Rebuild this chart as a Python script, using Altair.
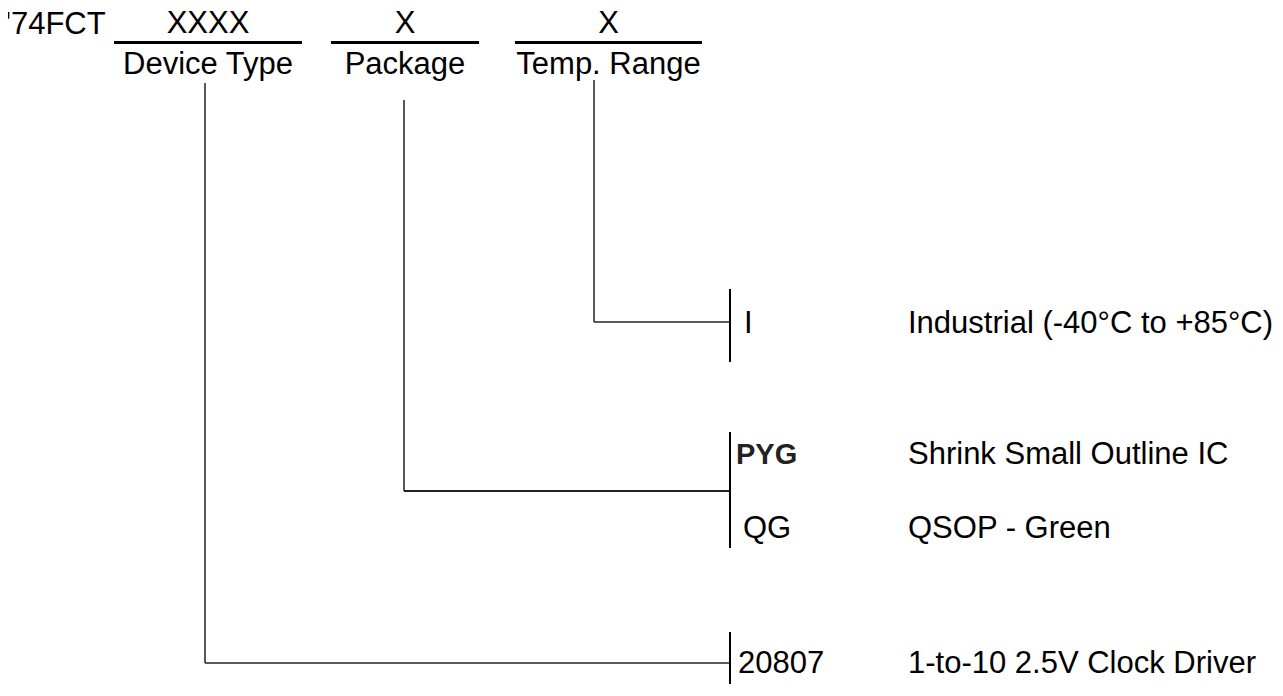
import altair as alt
import pandas as pd

# ---- content -------------------------------------------------------------
prefix = "'74FCT"
field_names = ["Device Type", "Package", "Temp. Range"]
placeholders = ["XXXX", "X", "X"]
option_codes = [["20807"], ["PYG", "QG"], ["I"]]
option_descriptions = [
    ["1-to-10 2.5V Clock Driver"],
    ["Shrink Small Outline IC", "QSOP - Green"],
    ["Industrial (-40°C to +85°C)"],
]
option_code_bold = [[False], [True, False], [False]]

# ---- layout (diagram coordinates, pixels of the page) ---------------------
W, H = 1267, 676
X0, Y0 = 8, 8
field_bar_left = [114, 331, 515]
field_bar_right = [302, 479, 702]
field_bar_y = 42.5
placeholder_y = 33
label_y = 74
prefix_x, prefix_y = 5, 34
connector_x = [205, 404, 594]
connector_top = [83, 100, 80]
connector_elbow = [663, 491, 322]
option_bar_x = 730
option_bar_span = [(632, 700), (432, 548), (289, 362)]
option_baselines = [[673], [464, 538], [333]]
code_x = [[738], [736, 743], [744]]
desc_x = 908

FONT = "Liberation Sans"
SIZE = 31

# ---- tables ---------------------------------------------------------------
bars = pd.DataFrame({
    "x": field_bar_left, "x2": field_bar_right,
    "y": [field_bar_y] * 3, "y2": [field_bar_y] * 3,
})

conn_rows = []
for i in range(3):
    conn_rows.append(dict(x=connector_x[i], x2=connector_x[i],
                          y=connector_top[i], y2=connector_elbow[i], w=1.5))
    conn_rows.append(dict(x=connector_x[i], x2=option_bar_x,
                          y=connector_elbow[i], y2=connector_elbow[i],
                          w=2.0 if i == 1 else 1.5))
connectors = pd.DataFrame(conn_rows)

opt_bars = pd.DataFrame({
    "x": [option_bar_x] * 3, "x2": [option_bar_x] * 3,
    "y": [s[0] for s in option_bar_span], "y2": [s[1] for s in option_bar_span],
})

centers = [(a + b) / 2 for a, b in zip(field_bar_left, field_bar_right)]
head_text = pd.DataFrame({"x": [prefix_x], "y": [prefix_y], "t": [prefix]})
placeholder_text = pd.DataFrame({"x": centers, "y": [placeholder_y] * 3, "t": placeholders})
label_text = pd.DataFrame({"x": centers, "y": [label_y] * 3, "t": field_names})

code_rows, desc_rows = [], []
for i in range(3):
    for j, code in enumerate(option_codes[i]):
        code_rows.append(dict(x=code_x[i][j], y=option_baselines[i][j], t=code,
                              bold=option_code_bold[i][j]))
        desc_rows.append(dict(x=desc_x, y=option_baselines[i][j],
                              t=option_descriptions[i][j]))
codes_df = pd.DataFrame(code_rows)
desc_df = pd.DataFrame(desc_rows)

xs = alt.Scale(domain=[X0, X0 + W], nice=False, zero=False)
ys = alt.Scale(domain=[Y0, Y0 + H], nice=False, zero=False, reverse=True)


def X(f="x"):
    return alt.X(f"{f}:Q", scale=xs, axis=None)


def Y(f="y"):
    return alt.Y(f"{f}:Q", scale=ys, axis=None)


bar_layer = alt.Chart(bars).mark_rule(color="black", strokeWidth=3).encode(
    x=X(), x2="x2:Q", y=Y(), y2="y2:Q")

conn_layer = alt.Chart(connectors).mark_rule(color="#222222").encode(
    x=X(), x2="x2:Q", y=Y(), y2="y2:Q",
    strokeWidth=alt.StrokeWidth("w:Q", scale=None, legend=None))

opt_layer = alt.Chart(opt_bars).mark_rule(color="black", strokeWidth=2).encode(
    x=X(), x2="x2:Q", y=Y(), y2="y2:Q")


def text_layer(df, align="left", size=SIZE, weight="normal", color="black"):
    return alt.Chart(df).mark_text(
        align=align, baseline="alphabetic", font=FONT, fontSize=size,
        fontWeight=weight, color=color,
    ).encode(x=X(), y=Y(), text="t:N")


prefix_layer = text_layer(head_text)
ph_layer = text_layer(placeholder_text, align="center")
lab_layer = text_layer(label_text, align="center")
code_plain = text_layer(codes_df[~codes_df["bold"]])
code_bold = text_layer(codes_df[codes_df["bold"]], size=29, weight="bold", color="#222222")
desc_layer = text_layer(desc_df)

chart = alt.layer(
    bar_layer, conn_layer, opt_layer,
    prefix_layer, ph_layer, lab_layer, code_plain, code_bold, desc_layer,
).properties(
    width=W, height=H, padding=0, autosize=alt.AutoSizeParams(type="none"),
    background="white",
).configure_view(stroke=None)

chart.save("out.html", embed_options={"renderer": "svg", "actions": False})
